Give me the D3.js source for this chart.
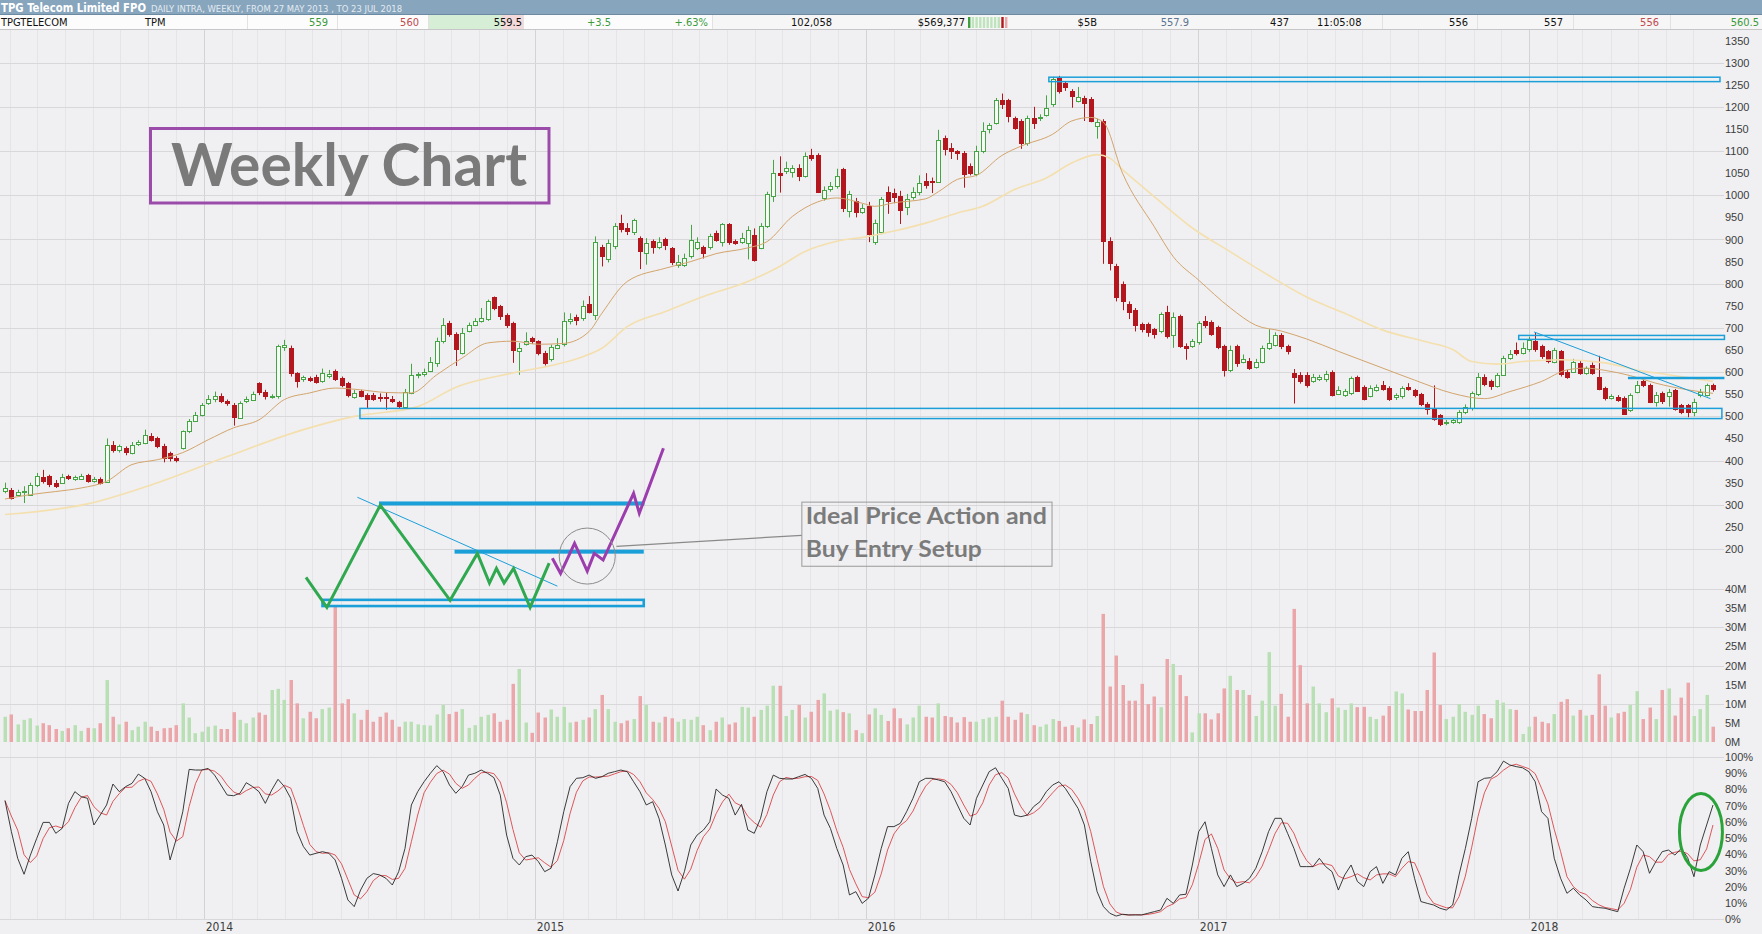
<!DOCTYPE html>
<html>
<head>
<meta charset="utf-8">
<title>TPG Telecom Weekly Chart</title>
<script src="https://d3js.org/d3.v7.min.js"></script>
<style>
	html, body { margin: 0; padding: 0; background: #f0f0f2; overflow: hidden; }
	svg { display: block; }
	.axisLabel text { font-family: "Liberation Sans", Arial, sans-serif; font-size: 11px; fill: #3c3c3c; }
	.hdr { font-family: "Liberation Sans Narrow", "DejaVu Sans Condensed", "Liberation Sans", sans-serif; font-size: 11px; }
</style>
</head>
<body>
<div id="chart"></div>
<script>
//global variables
var width = 1762,
	height = 934,
	startWeek = new Date(2013, 4, 27); //first weekly bar

//weekly candles, cents
var opens = [332,334,323,328,323,343,363,364,350,350,364,357,360,367,354,358,353,436,423,428,
	418,437,441,456,451,434,417,406,428,466,491,504,531,538,545,534,526,498,534,538,
	575,554,543,545,657,655,598,583,587,590,579,592,602,586,575,544,558,549,549,543,
	543,539,532,522,554,592,596,604,621,670,711,687,643,694,707,715,719,770,749,730,
	711,647,664,677,670,643,628,656,662,715,724,722,754,730,883,856,884,937,926,916,
	903,869,896,883,901,881,843,843,862,881,883,881,915,894,934,897,893,892,911,881,
	930,998,1051,1055,1054,1062,1043,1092,1092,996,1013,1020,1060,964,986,964,975,894,918,1007,
	1005,999,975,996,1007,1032,1032,1032,1130,1107,1100,1095,1067,1047,1100,1150,1164,1215,1215,1175,
	1168,1119,1175,1175,1183,1206,1266,1255,1236,1215,1220,1217,1156,1168,896,840,800,754,740,708,
	708,697,693,735,685,727,659,659,666,716,714,701,659,605,659,624,626,613,624,655,
	662,685,659,598,594,594,580,586,583,601,552,548,552,590,567,547,560,571,565,544,
	544,567,559,550,529,517,502,485,487,487,510,517,550,590,579,569,595,632,651,643,
	651,670,659,647,624,647,601,601,620,598,617,590,563,542,544,542,514,556,579,571,
	533,552,548,559,525,525,510,548,548,570];
var highs = [350,338,334,342,350,372,379,368,356,370,368,366,370,370,363,362,450,444,436,432,
	442,446,470,462,454,438,420,410,468,494,510,530,548,556,552,538,530,534,545,556,
	577,560,550,662,673,660,600,592,590,594,608,605,606,590,578,560,560,552,553,552,
	555,546,535,562,619,600,608,634,678,722,716,690,700,712,722,745,764,771,752,733,
	714,666,690,680,672,648,662,677,735,733,730,762,772,907,888,900,937,956,937,947,
	907,903,900,905,904,883,865,868,933,905,886,913,920,937,937,900,915,930,925,937,
	1008,1080,1088,1076,1068,1070,1097,1105,1095,1020,1030,1060,1062,1010,994,980,985,945,996,1020,
	1015,1010,1003,1018,1045,1050,1040,1148,1135,1118,1102,1100,1072,1112,1165,1163,1220,1230,1218,1178,
	1172,1180,1200,1183,1226,1268,1270,1258,1240,1245,1225,1222,1173,1172,905,845,805,760,745,712,
	712,700,735,750,735,730,665,675,715,727,717,705,662,660,662,640,632,630,660,697,
	690,688,662,607,600,600,596,594,603,604,568,562,590,592,570,570,572,580,568,552,
	568,575,562,553,532,570,505,492,495,514,527,556,598,595,583,598,637,650,667,667,
	680,689,662,650,655,650,605,630,625,613,622,637,567,550,548,545,552,580,582,574,
	555,556,562,562,528,528,540,562,574,574];
var lows = [326,312,320,304,320,340,348,340,338,347,356,354,356,350,350,346,350,418,418,412,
	414,433,437,443,428,396,398,396,425,462,488,500,526,532,530,524,479,494,530,535,
	548,538,540,540,648,590,565,578,578,574,576,586,580,566,543,540,543,519,535,533,
	515,530,518,518,550,586,590,600,612,665,680,614,640,690,704,712,716,740,718,700,
	621,594,660,664,638,615,624,652,658,708,706,716,733,718,839,848,878,916,910,910,
	833,843,868,878,876,842,836,838,857,876,857,877,895,884,888,888,890,855,850,878,
	926,985,1006,1048,1040,1032,1040,1078,1005,988,1008,1015,962,950,950,958,894,888,912,958,
	982,935,955,990,1000,1015,1005,1030,1090,1082,1080,1017,1045,1043,1095,1140,1160,1195,1165,1148,
	1105,1112,1150,1168,1178,1200,1230,1236,1198,1210,1168,1165,1128,845,830,760,740,720,692,690,
	680,676,688,676,655,655,628,655,662,700,682,652,590,600,612,620,605,608,620,650,
	658,652,640,529,574,565,576,580,578,545,548,544,548,555,536,543,556,558,535,537,
	540,558,543,523,504,490,478,480,483,483,505,513,546,568,560,565,592,628,638,640,
	646,646,630,620,620,590,585,598,594,594,594,559,536,538,533,503,510,552,566,530,
	522,528,522,513,505,498,500,543,545,556];
var closes = [339,317,329,331,345,364,353,345,343,363,360,362,366,353,359,350,436,424,432,418,
	436,441,458,447,432,406,406,402,466,489,504,526,539,545,534,530,498,531,539,551,
	554,544,546,658,662,599,581,588,583,579,598,596,584,571,547,553,547,541,541,541,
	540,534,522,556,594,595,601,624,670,707,687,654,688,707,715,722,760,745,726,707,
	651,654,670,670,643,620,656,662,715,720,718,749,737,894,862,892,930,924,919,943,
	873,892,883,894,888,849,850,858,898,894,870,907,900,935,894,893,903,922,854,930,
	1002,1051,1047,1061,1062,1043,1088,1085,1009,1013,1020,1043,971,1002,960,972,911,937,992,986,
	996,968,992,1007,1027,1022,1029,1126,1105,1100,1095,1047,1051,1100,1145,1158,1215,1206,1178,1153,
	1119,1175,1163,1178,1198,1262,1236,1246,1224,1223,1209,1168,1165,896,847,769,762,735,705,697,
	689,686,731,681,725,659,655,670,710,708,687,656,605,651,621,630,611,624,655,666,
	685,659,648,590,580,571,590,590,595,548,560,557,586,559,540,565,567,563,540,548,
	563,563,548,527,518,495,481,488,491,510,521,552,588,575,567,594,633,641,644,655,
	672,651,636,624,651,594,590,624,598,609,598,563,540,546,537,506,548,571,571,533,
	548,533,556,517,510,510,533,555,570,560];

//weekly volume, millions of shares
var volumes = [6.6,7.2,4.6,5.8,6.2,4.3,4.9,4.4,3.4,2.9,3.6,4.4,2.9,3.7,3.6,4.9,16.2,6.6,4.6,5.3,
	3.1,4.0,5.3,4.0,2.9,3.6,3.7,4.4,10.1,6.4,2.3,2.7,4.0,4.3,3.4,3.4,7.8,5.8,4.9,6.4,
	7.7,7.1,13.6,13.9,11.0,16.2,10.1,6.2,7.9,6.2,8.6,9.0,35.8,10.1,11.2,7.5,5.8,8.4,5.3,6.6,
	7.7,5.8,4.0,5.3,5.3,4.6,4.4,4.3,7.2,9.7,7.3,7.9,8.6,3.7,4.4,6.6,7.1,7.5,5.3,5.8,
	15.2,19.1,5.1,2.4,7.7,6.4,8.5,6.6,9.2,5.1,5.3,5.8,6.4,8.6,12.3,8.6,5.3,4.9,5.6,6.0,
	12.0,9.7,5.3,5.1,6.6,6.2,5.3,6.0,5.8,6.6,4.4,3.1,5.3,6.4,4.6,5.1,9.2,9.0,6.6,8.4,
	9.5,14.7,14.7,6.8,8.4,9.7,6.4,7.9,11.0,12.7,8.2,8.5,7.8,7.5,3.1,2.3,7.2,8.8,7.1,5.5,
	8.8,6.2,4.6,6.4,9.5,6.6,6.4,10.1,6.8,6.5,5.1,6.5,5.3,5.3,6.0,6.4,6.6,10.8,6.6,5.8,
	7.7,7.3,4.4,4.0,4.6,6.0,5.5,4.0,4.4,3.8,5.9,4.7,6.8,33.5,14.5,22.6,14.9,10.8,10.8,15.2,
	9.9,11.9,9.1,21.7,20.4,17.5,12.0,2.5,7.5,7.5,5.9,7.5,14.0,17.3,13.6,13.6,12.3,6.8,10.8,23.5,
	9.5,12.6,6.6,34.8,20.1,10.1,14.5,10.1,7.8,11.4,9.0,8.4,10.1,9.1,9.2,6.6,6.0,6.9,9.4,13.2,
	12.7,8.5,8.1,8.1,13.6,23.4,9.7,6.0,6.6,9.9,7.9,7.1,9.5,7.3,6.2,11.0,10.3,8.6,8.4,2.1,
	4.0,6.6,5.3,4.9,7.3,10.5,11.2,6.9,8.4,6.9,7.1,17.7,9.5,6.4,7.5,7.9,9.7,13.3,6.0,9.0,
	6.0,13.6,14.0,6.9,11.6,15.5,6.8,8.6,12.3,4.0];

//stochastic %K, percent
var stochK = [73,54,37.5,27.7,39.5,49.8,59.6,59.6,52.9,55.9,71.3,78.5,75.4,74.4,58,64.1,70.3,83.2,78.5,81.6,
	83.6,89.3,86.7,78.5,66.2,58,36.5,49.8,66.2,92.2,91.8,91.8,92.8,88.7,82.6,76.4,76,77.5,84,81.6,
	78.5,71.3,79.5,86.1,81.6,74.4,53.9,44.7,39.5,40.6,41.6,40.6,36.5,25.2,11.9,7.8,18,25.2,28.1,27.3,
	25.2,21.1,29.3,43.6,70.3,78.5,84.6,89.8,94.5,90.8,82.6,77.5,81.6,88.7,89.8,91.8,89.8,87.1,76.4,51.8,
	37.5,33.4,38.5,39.5,35.5,29.3,31.4,47.7,66.2,81.6,86.7,87.1,88.7,86.7,87.7,89.8,90.8,91.8,90.8,84.6,
	78.5,70.3,72.3,62.1,45.7,27.3,17.4,29.3,45.7,51.8,54.9,60,80.1,76.4,74.4,64.1,70.7,54.9,52.9,62.1,
	78.5,88.7,86.7,86.3,86.3,87.7,89.1,86.7,80.5,64.1,55.9,43.6,33.4,15,17,9.8,13,27.3,43.6,57,
	57,59,66.2,74.4,84.6,86.7,86.7,85.7,84.6,78.5,70.3,62.1,58,74.4,82.6,90.8,93.2,86.7,80.5,64.1,
	63.1,64.1,69.3,72.3,78.5,82.6,84.6,80.5,74.4,68.2,58,35.5,17,7.8,3.7,2,3.1,2.7,2.7,2.7,
	3.7,4.7,5.7,12.9,9.8,15,15.4,33.4,53.9,60,43.6,27.3,20.1,27.3,20.1,22.1,25.2,31.4,41.6,53.9,
	62.1,62.1,52.9,43.6,32.4,32.4,32.4,37.5,32.4,29.3,18,27.3,33.4,23.2,20.1,29.3,32.4,22.1,29.3,27.3,
	37.5,41.6,25.2,10.9,9.8,8.8,6.8,5.7,8.8,27.3,43.6,62.1,84.6,86.7,87.1,90.8,97.3,94.9,93.9,93.2,
	90.8,84.6,66.2,62.1,37.5,25.2,16,19.1,15,11.9,7.8,7.2,6.8,5.7,4.7,19.1,31.4,45.7,41.6,28.3,
	35.5,41.6,42.6,39.5,43.6,38,26.2,45.7,58,70.3];

//moving averages: [week, cents]
var maFast = [[0,313],[4,323],[8,330],[12,338],[16,353],[20,391],[24,402],[28,418],[32,447],[36,474],
	[40,492],[44,538],[48,553],[52,564],[56,560],[60,554],[64,553],[68,594],[72,632],[76,666],
	[80,670],[84,663],[88,665],[92,692],[94,733],[98,805],[104,835],[108,850],[112,868],[117,881],
	[120,895],[124,952],[128,985],[131,994],[135,982],[137,975],[140,983],[145,992],[147,1008],[150,1036],
	[153,1045],[157,1090],[160,1111],[165,1138],[168,1168],[171,1176],[173,1165],[176,1050],[181,929],[184,861],
	[188,808],[193,745],[197,706],[201,693],[205,675],[210,647],[217,609],[222,582],[228,552],[233,540],
	[237,556],[242,579],[246,605],[249,609],[252,604],[256,592],[260,575],[265,560],[269,552]];
var maSlow = [[0,278],[13,302],[23,345],[35,409],[47,470],[55,500],[65,522],[71,566],[80,598],[86,615],
	[91,635],[94,654],[98,703],[104,737],[110,771],[117,805],[122,839],[126,873],[131,896],[136,907],
	[140,919],[145,937],[150,960],[154,975],[159,1013],[164,1039],[168,1073],[172,1092],[174,1084],[176,1058],
	[181,997],[187,926],[193,872],[199,819],[205,770],[211,733],[217,695],[224,668],[228,651],[231,624],
	[235,618],[239,624],[245,628],[252,621],[257,605],[262,594],[269,579]];

//tick labels
var priceTicks = d3.range(200, 1351, 50),
	priceGrid = d3.range(200, 1301, 100),
	volumeTicks = [0, 5, 10, 15, 20, 25, 30, 35, 40],
	volumeGrid = [10, 20, 30, 40],
	stochTicks = d3.range(0, 101, 10),
	yearLabels = ["2014", "2015", "2016", "2017", "2018"];

//drawn support/resistance: [fromWeek, toWeek, lowCents, highCents]
var zones = [[164.4, 270.1, 1257, 1267], [55.9, 270.4, 495, 518], [238.4, 270.8, 674, 683]];
var resistLine = [[255.6, 587], [270.8, 587]],
	trendLine = [[240.8, 691], [268.6, 540]];

//sketch of the ideal setup: [week, cents]
var setupGreen = [[47.4,136],[50.7,68],[59.1,299],[70.1,84],[74.4,190],[76.3,123],[77.4,156],[78.6,123],[80.1,156],[82.7,68],[85.7,168]],
	setupPurple = [[86.2,179],[87.5,145],[89.7,213],[91.7,150],[92.8,190],[94.2,175],[99.0,326],[99.9,281],[103.7,428]],
	setupBars = [[58.9, 100.7, 303], [70.8, 100.6, 194]],
	setupBase = [50.0, 100.6, 71, 85],
	setupTrend = [[55.5, 317], [87.0, 116]],
	setupCircle = [91.7, 184],
	setupCallout = [[96.3, 206], [125.5, 231]],
	setupNoteBox = [125.5, 164.9, 161, 306],
	setupNote = ["Ideal Price Action and", "Buy Entry Setup"];

//quote strip
var quoteTexts = ["TPGTELECOM", "TPM", "559", "560", "559.5", "+3.5", "+.63%", "102,058", "$569,377", "$5B",
	"557.9", "437", "11:05:08", "556", "557", "556", "560.5"];

//scales
var x = d3.scaleTime()
	.domain([startWeek, weekDate(269)])
	.range([5, 1713]);
var yPrice = d3.scaleLinear().domain([200, 1350]).range([549, 40.5]);
var yVol = d3.scaleLinear().domain([0, 40]).range([742, 589]);
var yStoch = d3.scaleLinear().domain([0, 100]).range([919.3, 756.7]);

var svg;

function weekDate(i) {
	return new Date(startWeek.getTime() + i * 7 * 864e5);
}

function wx(i) {
	return x(weekDate(i));
}

function initialize() {
	svg = d3.select("#chart")
		.append("svg")
		.attr("width", width)
		.attr("height", height);

	svg.append("rect")
		.attr("width", width)
		.attr("height", height)
		.attr("fill", "#f0f0f2");

	svg.append("clipPath")
		.attr("id", "plotClip")
		.append("rect")
		.attr("x", 0).attr("y", 30)
		.attr("width", 1722).attr("height", 892);

	drawGrid();
	drawVolume();
	drawCandles();
	drawAverages();
	drawStochastic();
	drawAxes();
	drawZones();
	drawSetup();
	drawTitles();
	createHeader();
}

function drawGrid() {
	var grid = svg.append("g");
	//monthly then yearly vertical lines
	var months = d3.timeMonth.range(new Date(2013, 5, 1), new Date(2018, 7, 1));
	grid.selectAll(".month")
		.data(months.filter(function(d) { return d.getMonth() != 0; }))
		.enter()
		.append("line")
		.attr("x1", function(d) { return Math.round(x(d)) + 0.5; })
		.attr("x2", function(d) { return Math.round(x(d)) + 0.5; })
		.attr("y1", 30).attr("y2", 920)
		.attr("stroke", "#e5e5e8");
	grid.selectAll(".year")
		.data(d3.timeYear.range(new Date(2014, 0, 1), new Date(2018, 1, 1)))
		.enter()
		.append("line")
		.attr("x1", function(d) { return Math.round(x(d)) + 0.5; })
		.attr("x2", function(d) { return Math.round(x(d)) + 0.5; })
		.attr("y1", 30).attr("y2", 920)
		.attr("stroke", "#d3d3d6");

	var hLines = priceGrid.map(yPrice)
		.concat(volumeGrid.map(yVol))
		.concat([yStoch(100), yStoch(0)]);
	grid.selectAll(".h")
		.data(hLines)
		.enter()
		.append("line")
		.attr("x1", 0).attr("x2", 1724)
		.attr("y1", function(d) { return Math.round(d) + 0.5; })
		.attr("y2", function(d) { return Math.round(d) + 0.5; })
		.attr("stroke", "#d8d8db");
}

function drawVolume() {
	svg.append("g")
		.attr("clip-path", "url(#plotClip)")
		.selectAll("rect")
		.data(volumes)
		.enter()
		.append("rect")
		.attr("x", function(d, i) { return Math.round(wx(i)) - 1.5; })
		.attr("width", 3.5)
		.attr("y", function(d) { return yVol(d); })
		.attr("height", function(d) { return yVol(0) - yVol(d); })
		.attr("fill", function(d, i) { return closes[i] >= opens[i] ? "#b9e0b5" : "#eaa6a9"; });
}

function drawCandles() {
	var g = svg.append("g").attr("clip-path", "url(#plotClip)");
	var candles = g.selectAll(".candle")
		.data(closes)
		.enter()
		.append("g");

	candles.append("line")
		.attr("x1", function(d, i) { return Math.round(wx(i)) + 0.5; })
		.attr("x2", function(d, i) { return Math.round(wx(i)) + 0.5; })
		.attr("y1", function(d, i) { return yPrice(highs[i]); })
		.attr("y2", function(d, i) { return yPrice(lows[i]); })
		.attr("stroke", function(d, i) { return d >= opens[i] ? "#45a545" : "#b3161c"; });

	candles.append("rect")
		.attr("x", function(d, i) { return Math.round(wx(i)) - 1.5; })
		.attr("width", 4)
		.attr("y", function(d, i) { return Math.round(yPrice(Math.max(d, opens[i]))) + 0.5; })
		.attr("height", function(d, i) {
			return Math.max(1, Math.round(yPrice(Math.min(d, opens[i])) - yPrice(Math.max(d, opens[i]))));
		})
		.attr("fill", function(d, i) { return d >= opens[i] ? "#f7fbf6" : "#b3161c"; })
		.attr("stroke", function(d, i) { return d >= opens[i] ? "#45a545" : "#b3161c"; });
}

function drawAverages() {
	var line = d3.line()
		.x(function(d) { return wx(d[0]); })
		.y(function(d) { return yPrice(d[1]); })
		.curve(d3.curveMonotoneX);
	var g = svg.append("g").attr("clip-path", "url(#plotClip)");
	g.append("path")
		.attr("d", line(maSlow))
		.attr("fill", "none")
		.attr("stroke", "#f4dfae")
		.attr("stroke-width", 1.6);
	g.append("path")
		.attr("d", line(maFast))
		.attr("fill", "none")
		.attr("stroke", "#d3a46c")
		.attr("stroke-width", 1);
}

function drawStochastic() {
	//%D is the 3 week average of %K
	var stochD = stochK.map(function(d, i) {
		return d3.mean(stochK.slice(Math.max(0, i - 2), i + 1));
	});
	var line = d3.line()
		.x(function(d, i) { return wx(i); })
		.y(function(d) { return yStoch(d); });
	var g = svg.append("g").attr("clip-path", "url(#plotClip)");
	g.append("path")
		.attr("d", line(stochD))
		.attr("fill", "none")
		.attr("stroke", "#d9454a")
		.attr("stroke-width", 0.9);
	g.append("path")
		.attr("d", line(stochK))
		.attr("fill", "none")
		.attr("stroke", "#262626")
		.attr("stroke-width", 0.9);

	//highlight ring round the latest cross
	svg.append("ellipse")
		.attr("cx", wx(267.1))
		.attr("cy", yStoch(53.7))
		.attr("rx", 21.5)
		.attr("ry", 38.5)
		.attr("fill", "none")
		.attr("stroke", "#2aa43a")
		.attr("stroke-width", 3);
}

function drawAxes() {
	var priceAxis = svg.append("g")
		.attr("class", "axisLabel")
		.attr("transform", "translate(1722,0)")
		.call(d3.axisRight(yPrice).tickValues(priceTicks).tickSize(0).tickPadding(3)
			.tickFormat(d3.format("d")));
	var volAxis = svg.append("g")
		.attr("class", "axisLabel")
		.attr("transform", "translate(1722,0)")
		.call(d3.axisRight(yVol).tickValues(volumeTicks).tickSize(0).tickPadding(3)
			.tickFormat(function(d) { return d + "M"; }));
	var stochAxis = svg.append("g")
		.attr("class", "axisLabel")
		.attr("transform", "translate(1722,0)")
		.call(d3.axisRight(yStoch).tickValues(stochTicks).tickSize(0).tickPadding(3)
			.tickFormat(function(d) { return d + "%"; }));
	svg.selectAll(".axisLabel .domain").remove();
	svg.selectAll(".axisLabel").attr("font-family", null).attr("font-size", null);

	//year labels along the bottom
	svg.selectAll(".yearLabel")
		.data(yearLabels)
		.enter()
		.append("text")
		.attr("class", "hdr")
		.attr("x", function(d) { return x(new Date(+d, 0, 1)) + 2; })
		.attr("y", 931)
		.attr("fill", "#3c3c3c")
		.style("font-size", "12px")
		.text(function(d) { return d; });
}

function drawZones() {
	var g = svg.append("g");
	g.selectAll(".zone")
		.data(zones)
		.enter()
		.append("rect")
		.attr("x", function(d) { return wx(d[0]); })
		.attr("width", function(d) { return wx(d[1]) - wx(d[0]); })
		.attr("y", function(d) { return yPrice(d[3]); })
		.attr("height", function(d) { return yPrice(d[2]) - yPrice(d[3]); })
		.attr("fill", "none")
		.attr("stroke", "#1b9fd9")
		.attr("stroke-width", 1.5);

	g.append("line")
		.attr("x1", wx(resistLine[0][0])).attr("y1", yPrice(resistLine[0][1]))
		.attr("x2", wx(resistLine[1][0])).attr("y2", yPrice(resistLine[1][1]))
		.attr("stroke", "#1b9fd9")
		.attr("stroke-width", 2.5);
	g.append("line")
		.attr("x1", wx(trendLine[0][0])).attr("y1", yPrice(trendLine[0][1]))
		.attr("x2", wx(trendLine[1][0])).attr("y2", yPrice(trendLine[1][1]))
		.attr("stroke", "#1b9fd9")
		.attr("stroke-width", 1);
}

function drawSetup() {
	var g = svg.append("g");
	var line = d3.line()
		.x(function(d) { return wx(d[0]); })
		.y(function(d) { return yPrice(d[1]); });

	g.selectAll(".bar")
		.data(setupBars)
		.enter()
		.append("rect")
		.attr("x", function(d) { return wx(d[0]); })
		.attr("width", function(d) { return wx(d[1]) - wx(d[0]); })
		.attr("y", function(d) { return yPrice(d[2]) - 2; })
		.attr("height", 4)
		.attr("fill", "#1b9fd9");
	g.append("rect")
		.attr("x", wx(setupBase[0]))
		.attr("width", wx(setupBase[1]) - wx(setupBase[0]))
		.attr("y", yPrice(setupBase[3]))
		.attr("height", yPrice(setupBase[2]) - yPrice(setupBase[3]))
		.attr("fill", "none")
		.attr("stroke", "#1b9fd9")
		.attr("stroke-width", 2.6);

	g.append("path")
		.attr("d", line(setupTrend))
		.attr("stroke", "#1b9fd9")
		.attr("stroke-width", 1);
	g.append("path")
		.attr("d", line(setupGreen))
		.attr("fill", "none")
		.attr("stroke", "#2fa84f")
		.attr("stroke-width", 3);
	g.append("path")
		.attr("d", line(setupPurple))
		.attr("fill", "none")
		.attr("stroke", "#9c3dad")
		.attr("stroke-width", 3);

	g.append("circle")
		.attr("cx", wx(setupCircle[0]))
		.attr("cy", yPrice(setupCircle[1]))
		.attr("r", 28)
		.attr("fill", "none")
		.attr("stroke", "#8c8c8c")
		.attr("stroke-width", 1);
	g.append("path")
		.attr("d", line(setupCallout))
		.attr("stroke", "#8a8a8a")
		.attr("stroke-width", 1.2);

	g.append("rect")
		.attr("x", wx(setupNoteBox[0]))
		.attr("width", wx(setupNoteBox[1]) - wx(setupNoteBox[0]))
		.attr("y", yPrice(setupNoteBox[3]))
		.attr("height", yPrice(setupNoteBox[2]) - yPrice(setupNoteBox[3]))
		.attr("fill", "none")
		.attr("stroke", "#9a9a9a")
		.attr("stroke-width", 1);
	g.selectAll(".note")
		.data(setupNote)
		.enter()
		.append("text")
		.attr("x", wx(setupNoteBox[0]) + 4)
		.attr("y", function(d, i) { return yPrice(setupNoteBox[3]) + 22 + i * 33; })
		.attr("textLength", function(d, i) { return i == 0 ? 241 : 176; })
		.attr("lengthAdjust", "spacingAndGlyphs")
		.style("font-family", "Lato, 'Open Sans', sans-serif")
		.style("font-weight", "bold")
		.style("font-size", "23px")
		.attr("fill", "#7b7b7b")
		.text(function(d) { return d; });
}

function drawTitles() {
	svg.append("rect")
		.attr("x", 150.5).attr("y", 128.5)
		.attr("width", 398.5).attr("height", 74.5)
		.attr("fill", "none")
		.attr("stroke", "#9b4cab")
		.attr("stroke-width", 3);
	svg.append("text")
		.attr("x", 171)
		.attr("y", 186)
		.attr("textLength", 356)
		.attr("lengthAdjust", "spacingAndGlyphs")
		.style("font-family", "Lato, 'Open Sans', sans-serif")
		.style("font-weight", "bold")
		.style("font-size", "60px")
		.attr("fill", "#7a7a7a")
		.text("Weekly Chart");
}

function createHeader() {
	var hdr = svg.append("g");
	hdr.append("rect").attr("width", width).attr("height", 15).attr("fill", "#87a5bd");
	hdr.append("rect").attr("y", 14).attr("width", width).attr("height", 1).attr("fill", "#6d8aa3");
	hdr.append("text")
		.attr("class", "hdr")
		.attr("x", 1).attr("y", 12)
		.attr("fill", "#ffffff")
		.style("font-weight", "bold")
		.style("font-size", "13px")
		.attr("textLength", 145)
		.attr("lengthAdjust", "spacingAndGlyphs")
		.text("TPG Telecom Limited FPO");
	hdr.append("text")
		.attr("class", "hdr")
		.attr("x", 151).attr("y", 11.5)
		.attr("fill", "#e3ebf2")
		.style("font-size", "8px")
		.attr("textLength", 251)
		.attr("lengthAdjust", "spacingAndGlyphs")
		.text("DAILY INTRA, WEEKLY, FROM 27 MAY 2013 , TO 23 JUL 2018");

	//quote row
	hdr.append("rect").attr("y", 15).attr("width", width).attr("height", 14).attr("fill", "#fcfcfc");
	hdr.append("rect").attr("x", 712).attr("y", 15).attr("width", 1050).attr("height", 14).attr("fill", "#f6f6f6");
	hdr.append("rect").attr("x", 428).attr("y", 15).attr("width", 74).attr("height", 14).attr("fill", "#d6eed5");
	hdr.append("rect").attr("x", 502).attr("y", 15).attr("width", 21).attr("height", 14).attr("fill", "#f3d9d9");
	hdr.append("rect").attr("y", 29).attr("width", width).attr("height", 1).attr("fill", "#c6c6c8");
	[247, 337, 428, 523, 712, 1382, 1477, 1573, 1670].forEach(function(sx) {
		hdr.append("rect").attr("x", sx).attr("y", 15).attr("width", 1).attr("height", 14).attr("fill", "#e2e2e2");
	});

	//small trade depth bars
	var depthColours = ["#3f9f3f", "#bfe4bd", "#bfe4bd", "#bfe4bd", "#bfe4bd", "#bfe4bd", "#bfe4bd", "#bfe4bd", "#bfe4bd", "#b3161c", "#eaa6a9"];
	hdr.selectAll(".depth")
		.data(depthColours)
		.enter()
		.append("rect")
		.attr("x", function(d, i) { return 968 + i * 3.7; })
		.attr("y", 17)
		.attr("width", 2.4)
		.attr("height", 11)
		.attr("fill", function(d) { return d; });

	var cellEdge = [1, 145, 328, 419, 522, 611, 708, 832, 965, 1097, 1189, 1289, 1317, 1468, 1563, 1659, 1759];
	var cellAnchor = ["start", "start", "end", "end", "end", "end", "end", "end", "end", "end", "end", "end", "start", "end", "end", "end", "end"];
	var cellColour = ["#111", "#111", "#3b9b3b", "#c24a4f", "#111", "#3b9b3b", "#3b9b3b", "#111", "#111", "#111",
		"#5a7591", "#111", "#111", "#111", "#111", "#c24a4f", "#3b9b3b"];
	hdr.selectAll(".quote")
		.data(quoteTexts)
		.enter()
		.append("text")
		.attr("class", "hdr")
		.attr("x", function(d, i) { return cellEdge[i]; })
		.attr("y", 26)
		.attr("text-anchor", function(d, i) { return cellAnchor[i]; })
		.attr("fill", function(d, i) { return cellColour[i]; })
		.text(function(d) { return d; });
}

document.addEventListener('DOMContentLoaded', initialize)
</script>
</body>
</html>
